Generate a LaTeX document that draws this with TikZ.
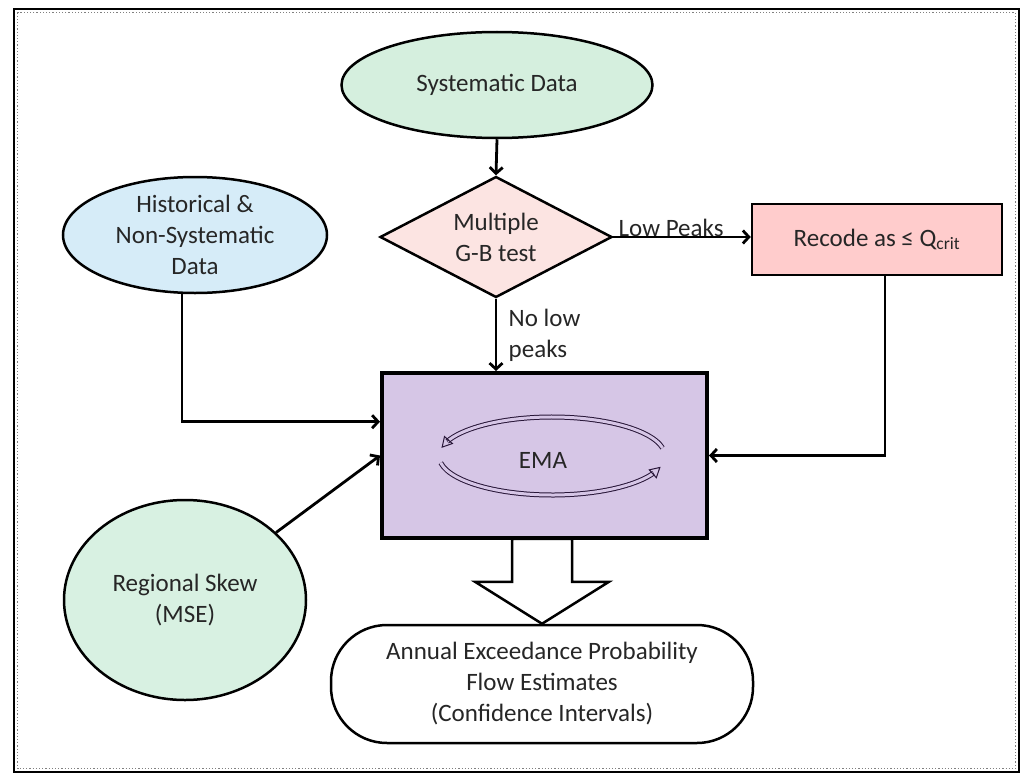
\documentclass[tikz,border=0pt]{standalone}
\usepackage{fontspec}
\setmainfont{Carlito}
\usetikzlibrary{arrows.meta,shapes.geometric,calc}

\definecolor{sysgreen}{RGB}{213,239,222}
\definecolor{skewgreen}{RGB}{216,241,226}
\definecolor{histblue}{RGB}{214,236,248}
\definecolor{testpink}{RGB}{252,228,226}
\definecolor{recodepink}{RGB}{255,204,204}
\definecolor{emafill}{RGB}{214,198,230}
\definecolor{emadark}{RGB}{40,22,56}
\definecolor{txtdark}{RGB}{38,38,38}

\begin{document}
\begin{tikzpicture}[x=1pt,y=-1pt,
  every node/.style={font=\fontsize{25}{31}\selectfont, text=txtdark, align=center},
  oval/.style={ellipse, draw, line width=2.5pt, inner sep=0pt},
  boxnode/.style={rectangle, draw, line width=2.5pt, inner sep=0pt},
  flow/.style={line width=2.8pt, -{Straight Barb[length=6pt,width=13pt]}},
  loopband/.style={draw=emadark, line width=1pt, double=emafill, double distance=3pt},
  loophead/.style={draw=emadark, line width=1pt, fill=emafill, -{Triangle[open,length=11pt,width=12pt]}},
  fatarrow/.style={draw, line width=2.5pt, fill=white, line join=miter}]

\useasboundingbox (0,0) rectangle (1025,776);
\draw[line width=2.5pt] (14,9) rectangle (1019,772);
\draw[gray, dotted, line width=1.2pt] (17.5,12.5) rectangle (1015.5,768.5);

\node[oval, fill=sysgreen, minimum width=311pt, minimum height=106pt] (sysdata) at (497,85) {Systematic Data};
\node[oval, fill=histblue, minimum width=264pt, minimum height=116pt] (hist) at (195,235) {Historical \&\\Non-Systematic\\Data};
\node[diamond, draw, line width=2.5pt, fill=testpink, inner sep=0pt, minimum width=232pt, minimum height=121pt, aspect=1.9] (gbtest) at (496,237) {Multiple\\G-B test};
\node[boxnode, fill=recodepink, minimum width=250pt, minimum height=71pt] (recode) at (877,239.5) {Recode as ≤ Q\textsubscript{crit}};
\node[boxnode, draw=black, line width=4pt, fill=emafill, minimum width=325pt, minimum height=165pt] (ema) at (544.5,455.5) {};
\node (emalbl) at (543,460) {EMA};
\node[oval, fill=skewgreen, minimum width=242pt, minimum height=200pt] (skew) at (185,600) {Regional Skew\\(MSE)};
\node[boxnode, rounded corners=56pt, fill=white, minimum width=422pt, minimum height=118pt] (aep) at (542,684) {Annual Exceedance Probability\\Flow Estimates\\(Confidence Intervals)};

\coordinate (loop) at (552,456);
\draw[loopband] ($(loop)+(348:113 and 39)$) arc[start angle=348, end angle=202, x radius=113, y radius=39];
\draw[loophead] ($(loop)+(202:113 and 39)$) -- ($(loop)+(192:113 and 39)$);
\draw[loopband] ($(loop)+(170:113 and 39)$) arc[start angle=170, end angle=26, x radius=113, y radius=39];
\draw[loophead] ($(loop)+(26:113 and 39)$) -- ($(loop)+(16:113 and 39)$);

\draw[flow] (sysdata.south) -- (gbtest.north);
\draw[flow] (gbtest.east) -- node[pos=0, anchor=base west, xshift=4pt, yshift=1pt, inner sep=0pt] {Low Peaks} (gbtest.east -| recode.west);
\draw[flow] (gbtest.south) -- node[midway, right=8pt, align=left] {No low\\peaks} (gbtest.south |- ema.north);
\draw[flow] ([xshift=-13pt]hist.south) |- ($(ema.north west)!0.3!(ema.south west)$);
\draw[flow] (skew) -- (ema.west);
\draw[flow] ([xshift=8pt]recode.south) |- (ema.east);

\draw[fatarrow] (aep.north) -- ++(-67,-42) -- ++(37,0) -- ++(0,-43) -- ++(60,0) -- ++(0,43) -- ++(37,0) -- cycle;
\end{tikzpicture}
\end{document}
